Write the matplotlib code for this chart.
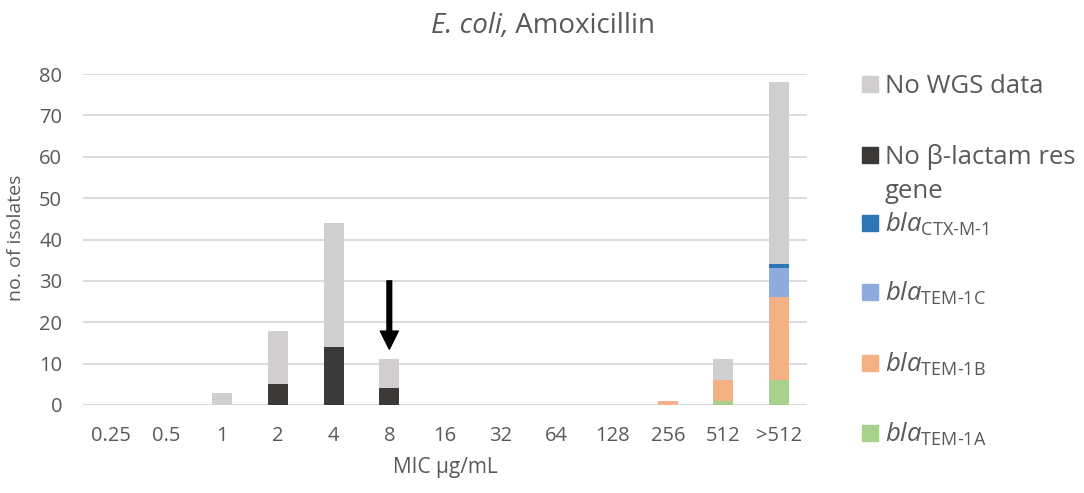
import numpy as np
import matplotlib
matplotlib.use('Agg')
import matplotlib.pyplot as plt
from matplotlib.patches import Rectangle

plt.rcParams['font.family'] = ['Open Sans', 'DejaVu Sans']
plt.rcParams['mathtext.fontset'] = 'custom'
plt.rcParams['mathtext.rm'] = 'Open Sans'
plt.rcParams['mathtext.it'] = 'Open Sans:italic'
plt.rcParams['mathtext.bf'] = 'Open Sans:bold'

# Data
mic = ['0.25', '0.5', '1', '2', '4', '8', '16', '32', '64', '128', '256', '512', '>512']
tem_1a = [0, 0, 0, 0, 0, 0, 0, 0, 0, 0, 0, 1, 6]
tem_1b = [0, 0, 0, 0, 0, 0, 0, 0, 0, 0, 1, 5, 20]
tem_1c = [0, 0, 0, 0, 0, 0, 0, 0, 0, 0, 0, 0, 7]
ctx_m_1 = [0, 0, 0, 0, 0, 0, 0, 0, 0, 0, 0, 0, 1]
no_bla = [0, 0, 0, 5, 14, 4, 0, 0, 0, 0, 0, 0, 0]
no_wgs = [0, 0, 3, 13, 30, 7, 0, 0, 0, 0, 0, 5, 44]
breakpoint_idx = 5  # arrow at 8 ug/mL
arrow_from, arrow_to = 30, 13.5

series = [
    (tem_1a, '#A9D18E', r'$\it{bla}_{\text{TEM-1A}}$'),
    (tem_1b, '#F4B183', r'$\it{bla}_{\text{TEM-1B}}$'),
    (tem_1c, '#8FAADC', r'$\it{bla}_{\text{TEM-1C}}$'),
    (ctx_m_1, '#2E75B6', r'$\it{bla}_{\text{CTX-M-1}}$'),
    (no_bla, '#3B3838', 'No \u03b2-lactam res'),
    (no_wgs, '#D0CECE', 'No WGS data'),
]

W, H = 1084, 493
txt = '#595959'
fig = plt.figure(figsize=(W / 100, H / 100), dpi=100)
ax = fig.add_axes([83 / W, 88 / H, 724 / W, 331 / H])

x = np.arange(len(mic))
bottom = np.zeros(len(mic))
for vals, col, lab in series:
    ax.bar(x, vals, width=0.36, bottom=bottom, color=col, zorder=3)
    bottom += np.array(vals)

ax.annotate('', xy=(breakpoint_idx, arrow_to), xytext=(breakpoint_idx, arrow_from),
            arrowprops=dict(facecolor='black', edgecolor='black', width=3.4,
                            headwidth=13, headlength=13, shrink=0), zorder=5)

ax.set_xlim(-0.5, len(mic) - 0.5)
ax.set_ylim(0, 80)
ax.set_yticks(range(0, 81, 10))
ax.set_xticks(x)
ax.set_xticklabels(mic)
ax.grid(axis='y', color='#D9D9D9', linewidth=1.3, zorder=0)
for s in ax.spines.values():
    s.set_visible(False)
ax.tick_params(axis='both', length=0, labelsize=14.5, labelcolor=txt)
ax.tick_params(axis='x', pad=15)
ax.tick_params(axis='y', pad=15)

ax.set_ylabel('no. of isolates', fontsize=14, color=txt)
ax.yaxis.set_label_coords(-0.08, 0.504)
ax.set_xlabel('MIC \u00b5g/mL', fontsize=15, color=txt)
ax.xaxis.set_label_coords(0.5, -0.19)
ax.xaxis.label.set_va('center')

# title: italic species + roman drug, centred on the figure
t1 = fig.text(0, 1 - 33 / H, 'E. coli,', fontsize=20, style='italic', color=txt,
              ha='left', va='baseline')
t2 = fig.text(0, 1 - 33 / H, ' Amoxicillin', fontsize=20, color=txt,
              ha='left', va='baseline')
r = fig.canvas.get_renderer()
w1 = t1.get_window_extent(r).width
w2 = t2.get_window_extent(r).width
x0 = 543 - (w1 + w2) / 2
t1.set_x(x0 / W)
t2.set_x((x0 + w1) / W)

# legend, drawn by hand to follow the original layout
leg_y = {'No WGS data': 84, 'No \u03b2-lactam res': 155,
         r'$\it{bla}_{\text{CTX-M-1}}$': 223, r'$\it{bla}_{\text{TEM-1C}}$': 292,
         r'$\it{bla}_{\text{TEM-1B}}$': 363, r'$\it{bla}_{\text{TEM-1A}}$': 433}
for vals, col, lab in series:
    yc = leg_y[lab]
    fig.patches.append(Rectangle((862 / W, 1 - (yc + 8) / H), 16 / W, 16 / H,
                                 transform=fig.transFigure, color=col))
    fig.text(885 / W, 1 - (yc + 9) / H, lab, fontsize=18.5, color=txt,
             ha='left', va='baseline')
fig.text(885 / W, 1 - 198 / H, 'gene', fontsize=18.5, color=txt, ha='left', va='baseline')

fig.savefig('out.png', dpi=100)
